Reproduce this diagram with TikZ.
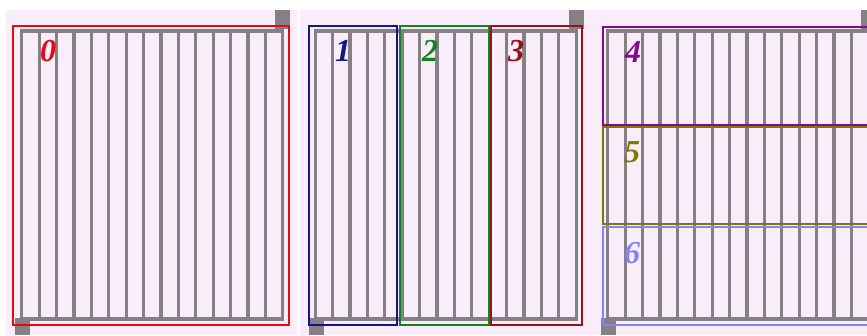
\documentclass[tikz,border=0pt]{standalone}
\usepackage{fontspec}
\setmainfont{Liberation Serif}
\definecolor{bgpink}{RGB}{248,237,248}
\definecolor{bargray}{RGB}{132,128,134}
\definecolor{c0}{RGB}{230,10,20}
\definecolor{c1}{RGB}{20,20,140}
\definecolor{c2}{RGB}{20,130,30}
\definecolor{c3}{RGB}{150,20,25}
\definecolor{c4}{RGB}{130,10,140}
\definecolor{c5}{RGB}{130,120,0}
\definecolor{c6}{RGB}{130,130,250}
\tikzset{
  panelbg/.style={fill=bgpink, draw=none},
  bar/.style={draw=bargray, line width=3.2pt},
  pad/.style={fill=bargray, draw=none},
  region/.style={line width=2pt},
  lab/.style={font=\fontsize{32}{32}\selectfont\bfseries\itshape, inner sep=0pt, anchor=center}
}
\begin{document}
\begin{tikzpicture}[x=1pt,y=-1pt]
\useasboundingbox (0,0) rectangle (867,335);
\fill[white] (0,0) rectangle (867,335);
% panels
\foreach \ox/\w in {0/291, 293.5/293, 586/290}{
  \fill[panelbg] (\ox+6,10) rectangle (\ox+6+\w,335);
  \foreach \i in {0,...,15}{
    \draw[bar] (\ox+21.7+17.4*\i,31) -- (\ox+21.7+17.4*\i,319);
  }
  \draw[bar] (\ox+20.1,31) -- (\ox+284.3,31);
  \draw[bar] (\ox+20.1,319) -- (\ox+284.3,319);
  \fill[pad] (\ox+275,10) rectangle (\ox+290,29);
  \fill[pad] (\ox+15,318) rectangle (\ox+30,335);
}
% regions
\draw[region, c0] (13,25.5) rectangle (289,325);
\draw[region, c1] (308.5,26) rectangle (397,325);
\draw[region, c2] (400,26) rectangle (488.5,325);
\draw[region, c3] (491,26) rectangle (582,325);
\draw[region, c4] (603,27) rectangle (880,124.5);
\draw[region, c5] (603,127) rectangle (880,224);
\draw[region, c6] (603,226.5) rectangle (880,325);
% labels
\node[lab, text=c0] (l0) at (48,51) {0};
\node[lab, text=c1] (l1) at (343,51) {1};
\node[lab, text=c2] (l2) at (430,51) {2};
\node[lab, text=c3] (l3) at (516,51) {3};
\node[lab, text=c4] (l4) at (633,52) {4};
\node[lab, text=c5] (l5) at (632,152) {5};
\node[lab, text=c6] (l6) at (632,253) {6};
\end{tikzpicture}
\end{document}
